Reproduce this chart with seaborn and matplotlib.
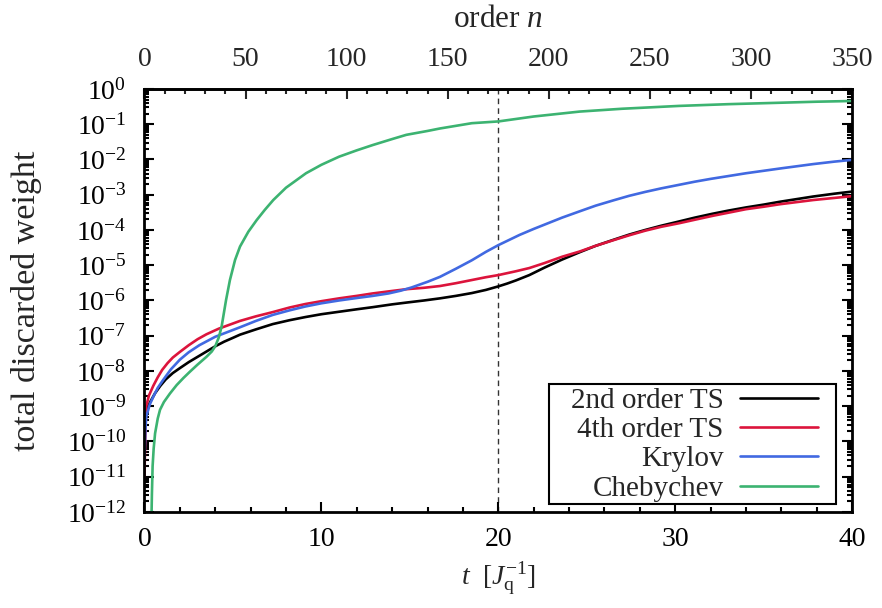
import numpy as np
import pandas as pd
import matplotlib
matplotlib.use("Agg")
import matplotlib.pyplot as plt
from matplotlib.patches import Rectangle
import seaborn as sns
from matplotlib.ticker import LogLocator, LogFormatterMathtext, MultipleLocator, NullFormatter, FixedLocator

# ---- data (t in 1/J_q, weights stored as log10 exponents) ----
t_ts2 = [0.0, 0.03, 0.1, 0.3, 0.6, 0.9, 1.2, 1.6, 2.0, 2.5, 3.0, 3.5, 4.0, 4.5, 5.0, 5.4,
         6.3, 7.25, 8.2, 9.1, 10.0, 11.0, 12.0, 12.9, 14.0, 14.8, 15.8, 16.7, 17.6, 18.5,
         19.3, 20.0, 20.5, 21.0, 21.75, 22.6, 23.6, 24.6, 25.5, 26.5, 27.4, 28.3, 29.2,
         30.2, 31.1, 32.1, 33.0, 34.0, 35.0, 35.9, 37.8, 39.0, 40.0]
log_ts2 = [-10.3, -9.6, -9.2, -8.9, -8.63, -8.42, -8.24, -8.06, -7.92, -7.75, -7.6, -7.45,
           -7.3, -7.17, -7.06, -6.97, -6.82, -6.67, -6.56, -6.47, -6.39, -6.32, -6.25,
           -6.19, -6.11, -6.06, -6.0, -5.94, -5.87, -5.79, -5.7, -5.6, -5.52, -5.43,
           -5.28, -5.07, -4.84, -4.63, -4.45, -4.28, -4.13, -4.0, -3.88, -3.76, -3.65,
           -3.54, -3.45, -3.36, -3.28, -3.2, -3.05, -2.97, -2.91]

t_ts4 = [0.0, 0.03, 0.06, 0.1, 0.25, 0.5, 0.75, 1.0, 1.3, 1.6, 2.0, 2.5, 3.0, 3.5, 4.2,
         5.4, 6.3, 7.25, 8.2, 9.1, 10.0, 11.0, 12.0, 12.9, 14.0, 14.8, 15.8, 16.7, 17.6,
         18.5, 19.3, 20.0, 21.0, 21.75, 22.6, 23.6, 24.6, 25.5, 26.5, 27.4, 28.3, 29.2,
         30.2, 31.1, 32.1, 33.0, 34.0, 35.0, 35.9, 37.8, 39.0, 40.0]
log_ts4 = [-11.0, -10.2, -9.6, -9.0, -8.7, -8.42, -8.18, -7.97, -7.78, -7.62, -7.46, -7.27,
           -7.1, -6.96, -6.8, -6.58, -6.45, -6.33, -6.2, -6.1, -6.02, -5.94, -5.87, -5.8,
           -5.73, -5.68, -5.64, -5.59, -5.51, -5.42, -5.34, -5.28, -5.17, -5.08, -4.94,
           -4.76, -4.61, -4.45, -4.29, -4.15, -4.02, -3.91, -3.81, -3.71, -3.6, -3.51,
           -3.41, -3.34, -3.27, -3.15, -3.09, -3.04]

t_kry = [0.0, 0.05, 0.1, 0.3, 0.5, 0.75, 1.05, 1.5, 2.0, 2.5, 3.1, 4.0, 5.4, 6.3, 7.25,
         8.2, 9.1, 10.0, 11.0, 12.0, 12.9, 13.8, 14.5, 15.1, 16.0, 16.7, 17.6, 18.5, 19.3,
         20.0, 21.2, 22.0, 22.7, 23.6, 24.6, 25.5, 26.5, 27.4, 28.3, 29.2, 30.2, 31.1,
         32.0, 33.0, 34.0, 35.0, 36.0, 37.8, 39.0, 40.0]
log_kry = [-10.5, -9.7, -9.3, -8.95, -8.73, -8.48, -8.26, -7.95, -7.68, -7.47, -7.27,
           -7.03, -6.76, -6.58, -6.41, -6.28, -6.17, -6.08, -6.0, -5.93, -5.87, -5.8,
           -5.72, -5.63, -5.47, -5.33, -5.1, -4.86, -4.62, -4.43, -4.14, -3.97, -3.83,
           -3.65, -3.47, -3.31, -3.16, -3.03, -2.92, -2.82, -2.72, -2.63, -2.55, -2.47,
           -2.39, -2.32, -2.25, -2.13, -2.06, -2.01]

t_che = [0.38, 0.42, 0.46, 0.52, 0.6, 0.75, 0.88, 1.1, 1.44, 1.82, 2.2, 2.57, 3.0, 3.5,
         3.8, 4.0, 4.2, 4.36, 4.61, 4.83, 5.12, 5.4, 5.87, 6.34, 6.8, 7.28, 8.0, 9.13,
         10.0, 11.0, 12.0, 12.9, 14.0, 14.8, 16.0, 16.7, 18.5, 20.0, 22.0, 24.6, 27.0,
         30.2, 33.0, 35.9, 38.0, 40.0]
log_che = [-12.6, -11.5, -10.7, -10.2, -9.77, -9.35, -9.1, -8.88, -8.64, -8.4, -8.2, -8.02,
           -7.82, -7.6, -7.45, -7.3, -7.05, -6.74, -5.99, -5.42, -4.85, -4.47, -4.05,
           -3.72, -3.43, -3.15, -2.8, -2.39, -2.15, -1.92, -1.74, -1.59, -1.42, -1.30,
           -1.19, -1.12, -0.97, -0.92, -0.78, -0.64, -0.56, -0.48, -0.43, -0.39, -0.36,
           -0.34]

labels = ["2nd order TS", "4th order TS", "Krylov", "Chebychev"]
colors = ["#000000", "#dc143c", "#4169e1", "#3cb371"]
x_ticks = [0, 10, 20, 30, 40]
n_ticks = [0, 50, 100, 150, 200, 250, 300, 350]
t_marker = 20.0

# ---- style ----
sns.set_theme(style="ticks")
plt.rcParams["font.family"] = ["Liberation Serif", "DejaVu Serif"]
plt.rcParams["mathtext.fontset"] = "custom"
plt.rcParams["mathtext.rm"] = "Liberation Serif"
plt.rcParams["mathtext.it"] = "Liberation Serif:italic"
plt.rcParams["mathtext.bf"] = "Liberation Serif:bold"
FS = 20

fig = plt.figure(figsize=(8.82, 6.08), dpi=100)
ax = fig.add_axes([0.1638, 0.158, 0.8024, 0.6956])

series = [(t_ts2, log_ts2), (t_ts4, log_ts4), (t_kry, log_kry), (t_che, log_che)]
for (tt, lw_), lab, c in zip(series, labels, colors):
    df = pd.DataFrame({"t": tt, "w": 10.0 ** np.asarray(lw_)})
    sns.lineplot(data=df, x="t", y="w", ax=ax, color=c, label=lab, linewidth=1.9,
                 estimator=None, sort=False)

ax.axvline(t_marker, color="#333333", linestyle=(0, (4, 3)), linewidth=1.0, zorder=0)

ax.set_yscale("log")
ax.set_xlim(0, 40)
ax.set_ylim(1e-12, 1)
ax.xaxis.set_major_locator(FixedLocator(x_ticks))
ax.xaxis.set_minor_locator(MultipleLocator(2))
ax.yaxis.set_major_locator(LogLocator(base=10, numticks=30))
ax.yaxis.set_major_formatter(LogFormatterMathtext())
ax.yaxis.set_minor_locator(LogLocator(base=10, subs=np.arange(2, 10), numticks=30))
ax.yaxis.set_minor_formatter(NullFormatter())

ax.tick_params(which="both", direction="in", top=False, right=True, width=1.5,
               labelsize=FS, color="black", labelcolor="black")
ax.tick_params(which="major", length=7)
ax.tick_params(which="minor", length=3.5)
ax.tick_params(axis="x", pad=11)
ax.tick_params(axis="y", pad=13)
for s in ax.spines.values():
    s.set_linewidth(2.0)
    s.set_color("black")

ax.set_xlabel(r"$t\ \ [J_{\mathrm{q}}^{-1}]$", fontsize=FS, labelpad=6)
ax.set_ylabel("total discarded weight", fontsize=24.5)
ax.yaxis.set_label_coords(-0.145, 0.5)

sec = ax.secondary_xaxis("top", functions=(lambda t: t * 350.0 / 40.0, lambda n: n * 40.0 / 350.0))
sec.xaxis.set_major_locator(FixedLocator(n_ticks))
sec.xaxis.set_minor_locator(MultipleLocator(10))
sec.tick_params(which="both", direction="in", width=1.5, labelsize=FS, pad=12)
sec.tick_params(which="major", length=7)
sec.tick_params(which="minor", length=3.5)
sec.spines["top"].set_linewidth(2.0)
sec.set_xlabel(r"order $n$", fontsize=22.5, labelpad=15)

leg = ax.legend(loc="lower right", bbox_to_anchor=(0.952, 0.024), borderaxespad=0,
                markerfirst=False, handlelength=2.67, handletextpad=0.58,
                labelspacing=0.1, borderpad=0.0, fontsize=21, frameon=False)
leg.set_zorder(6)
for line in leg.get_lines():
    line.set_linewidth(1.9)

# frame around the legend, wider horizontally than vertically (as in the original)
fig.canvas.draw()
bb = leg.get_window_extent()
inv = ax.transAxes.inverted()
(x0, y0) = inv.transform((bb.x0 - 22, bb.y0 - 2))
(x1, y1) = inv.transform((bb.x1 + 18, bb.y1 + 3))
ax.add_patch(Rectangle((x0, y0), x1 - x0, y1 - y0, transform=ax.transAxes,
                       facecolor="white", edgecolor="black", linewidth=1.5,
                       zorder=5.5, clip_on=False))

fig.savefig("out.png", dpi=100)
